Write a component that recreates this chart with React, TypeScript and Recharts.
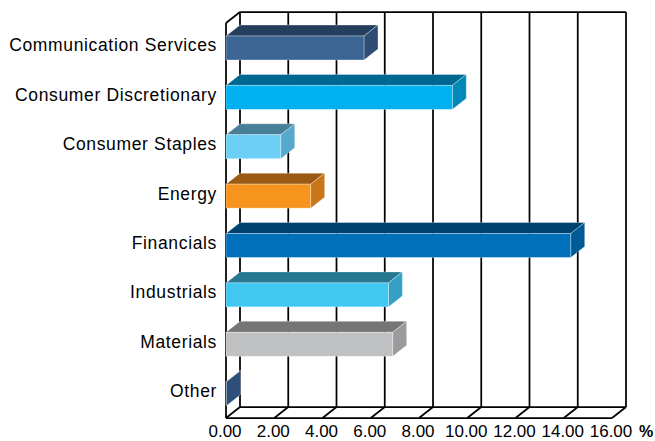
import { BarChart, Bar, XAxis, YAxis, CartesianGrid, Customized } from "recharts";

// Sector weights (%)
const SECTORS = [
  "Communication Services",
  "Consumer Discretionary",
  "Consumer Staples",
  "Energy",
  "Financials",
  "Industrials",
  "Materials",
  "Other",
];
const WEIGHTS = [5.72, 9.38, 2.27, 3.51, 14.29, 6.73, 6.91, 0.02];
const X_TICKS = [0, 2, 4, 6, 8, 10, 12, 14, 16];

// Excel-style 3D box colours: front face, top face, side face
const FRONT_COLORS = ["#3b6593", "#00b0f0", "#6ccff6", "#f7941d", "#0070ba", "#40c8f2", "#c0c1c3", "#3b6593"];
const TOP_COLORS = ["#243f5e", "#006890", "#467f96", "#9b5a12", "#00426e", "#25788f", "#757575", "#243f5e"];
const SIDE_COLORS = ["#2d4d74", "#0088b8", "#56a9cb", "#c87617", "#005a96", "#34a0c4", "#9a9b9d", "#2e4f7a"];

const data = SECTORS.map((name, i) => ({ name, weight: WEIGHTS[i], idx: i }));

const WIDTH = 655;
const HEIGHT = 441;
// the plot area is the back wall; the front plane sits DEPTH_X left and DEPTH_Y down
const PLOT_LEFT = 240;
const PLOT_TOP = 12;
const PLOT_RIGHT = 626;
const PLOT_BOTTOM = 407;
const DEPTH_X = 14;
const DEPTH_Y = 11;
const LINE = 1.75;
const FONT = "'Liberation Sans', Arial, sans-serif";

function Box3D(props: any) {
  const { x, y, width, height } = props;
  const i = props.payload?.idx ?? props.index ?? 0;
  const fx = x - DEPTH_X;
  const fy = y + DEPTH_Y;
  const edge = "rgba(255,255,255,0.55)";
  return (
    <g>
      <polygon
        points={`${fx},${fy} ${x},${y} ${x + width},${y} ${fx + width},${fy}`}
        fill={TOP_COLORS[i]}
        stroke={edge}
        strokeWidth={0.6}
      />
      <polygon
        points={`${fx + width},${fy} ${x + width},${y} ${x + width},${y + height} ${fx + width},${fy + height}`}
        fill={SIDE_COLORS[i]}
        stroke={edge}
        strokeWidth={0.6}
      />
      <rect x={fx} y={fy} width={width} height={height} fill={FRONT_COLORS[i]} stroke={edge} strokeWidth={0.6} />
    </g>
  );
}

function CategoryTick(props: any) {
  const { y, payload } = props;
  return (
    <text
      x={PLOT_LEFT - DEPTH_X - 9}
      y={y + DEPTH_Y - 2.5}
      dy="0.36em"
      textAnchor="end"
      fontFamily={FONT}
      fontSize={17.5}
      letterSpacing={0.65}
      fill="#000"
    >
      {payload.value}
    </text>
  );
}

function FloorTick(props: any) {
  const { x, payload } = props;
  return (
    <g>
      <line
        x1={x}
        y1={PLOT_BOTTOM}
        x2={x - DEPTH_X}
        y2={PLOT_BOTTOM + DEPTH_Y}
        stroke="#000"
        strokeWidth={LINE}
      />
      <text
        x={x - DEPTH_X - 1}
        y={436.5}
        textAnchor="middle"
        fontFamily={FONT}
        fontSize={17}
        fill="#000"
      >
        {Number(payload.value).toFixed(2)}
      </text>
    </g>
  );
}

// left wall front edge, floor front edge and the unit label
function Frame() {
  return (
    <g stroke="#000" strokeWidth={LINE}>
      <line x1={PLOT_LEFT - DEPTH_X} y1={PLOT_TOP + DEPTH_Y} x2={PLOT_LEFT - DEPTH_X} y2={PLOT_BOTTOM + DEPTH_Y} />
      <line x1={PLOT_LEFT - DEPTH_X} y1={PLOT_TOP + DEPTH_Y} x2={PLOT_LEFT} y2={PLOT_TOP} />
      <line x1={PLOT_LEFT - DEPTH_X} y1={PLOT_BOTTOM + DEPTH_Y} x2={PLOT_RIGHT - DEPTH_X} y2={PLOT_BOTTOM + DEPTH_Y} />
      <text x={646} y={436.5} textAnchor="middle" fontFamily={FONT} fontSize={16} fontWeight="bold" fill="#000" stroke="none">
        %
      </text>
    </g>
  );
}

export default function App() {
  return (
    <div style={{ position: "absolute", left: 0, top: 0, width: WIDTH, height: HEIGHT, background: "#fff" }}>
      <BarChart
        width={WIDTH}
        height={HEIGHT}
        data={data}
        layout="vertical"
        margin={{ top: PLOT_TOP, right: WIDTH - PLOT_RIGHT, bottom: 0, left: 0 }}
      >
        <CartesianGrid
          stroke="#000"
          strokeWidth={LINE}
          horizontalPoints={[PLOT_TOP, PLOT_BOTTOM]}
        />
        <Customized component={Frame} />
        <XAxis
          type="number"
          domain={[0, 16]}
          ticks={X_TICKS}
          interval={0}
          height={HEIGHT - PLOT_BOTTOM}
          axisLine={false}
          tickLine={false}
          tick={FloorTick}
        />
        <YAxis
          type="category"
          dataKey="name"
          width={PLOT_LEFT}
          axisLine={false}
          tickLine={false}
          tick={CategoryTick}
        />
        <Bar dataKey="weight" barSize={24} shape={Box3D} isAnimationActive={false} />
      </BarChart>
    </div>
  );
}
